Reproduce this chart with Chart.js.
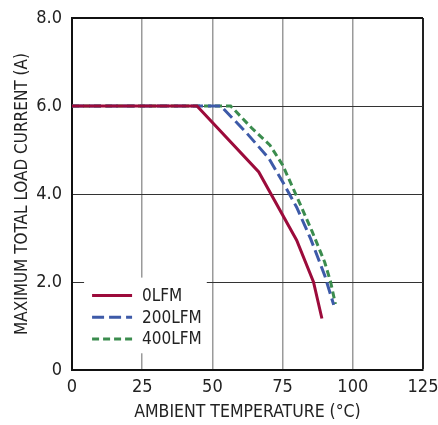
<!DOCTYPE html>
<html>
<head>
<meta charset="utf-8">
<script src="https://cdn.jsdelivr.net/npm/chart.js@4/dist/chart.umd.min.js"></script>
<style>
  html, body { margin: 0; padding: 0; background: #fff; }
  #wrap { width: 438px; height: 425px; }
</style>
</head>
<body>
<div id="wrap"><canvas id="derating" width="438" height="425"></canvas></div>
<script>
// Derating curves
const tempTicks = [0, 25, 50, 75, 100, 125];
const currentTicks = [0, 2, 4, 6, 8];

const temp0 = [0, 44.5, 66.5, 80, 86, 89];
const amps0 = [6, 6, 4.5, 2.95, 2.0, 1.17];

const temp200 = [0, 53, 62, 70, 75, 80, 85, 90, 93.2];
const amps200 = [6, 6, 5.4, 4.82, 4.28, 3.7, 2.98, 2.15, 1.48];

const temp400 = [0, 56.5, 64, 70.5, 75, 80, 85.5, 90, 92.1, 93.8];
const amps400 = [6, 6, 5.5, 5.11, 4.66, 3.95, 3.15, 2.45, 2.0, 1.5];

const seriesNames = ['0LFM', '200LFM', '400LFM'];
const seriesColors = ['#9c0b3b', '#3d5aa8', '#3b8c4e'];
const seriesDash = [[], [12, 5], [7, 4]];

const FONT = '"Liberation Sans Narrow", "DejaVu Sans Condensed", sans-serif';

const toPoints = (xs, ys) => xs.map((x, i) => ({ x: x, y: ys[i] }));

// legend drawn inside the plot, on a white box
const boxLegend = {
    id: 'boxLegend',
    beforeDatasetsDraw(chart) {
        const c = chart.ctx;
        const xs = chart.scales.x, ys = chart.scales.y;
        const left = xs.getPixelForValue(4.3);
        const right = xs.getPixelForValue(48);
        const top = ys.getPixelForValue(2.1);
        const bottom = ys.getPixelForValue(0.38);
        c.save();
        c.fillStyle = '#fff';
        c.fillRect(left, top, right - left, bottom - top);
        c.font = '17px ' + FONT;
        c.textBaseline = 'middle';
        seriesNames.forEach((name, i) => {
            const y = top + 18 + i * 21.7;
            c.strokeStyle = seriesColors[i];
            c.lineWidth = 3;
            c.setLineDash(seriesDash[i]);
            c.beginPath();
            c.moveTo(left + 8, y);
            c.lineTo(left + 48, y);
            c.stroke();
            c.setLineDash([]);
            c.fillStyle = '#222';
            c.fillText(name, left + 58, y + 1);
        });
        c.restore();
    }
};

const datasets = [
    { label: seriesNames[0], data: toPoints(temp0, amps0) },
    { label: seriesNames[1], data: toPoints(temp200, amps200) },
    { label: seriesNames[2], data: toPoints(temp400, amps400) }
].map((d, i) => Object.assign(d, {
    borderColor: seriesColors[i],
    backgroundColor: seriesColors[i],
    borderWidth: 3,
    borderDash: seriesDash[i],
    pointRadius: 0,
    tension: 0,
    fill: false
}));

new Chart(document.getElementById('derating'), {
    type: 'line',
    data: { datasets: datasets },
    plugins: [boxLegend],
    options: {
        responsive: false,
        animation: false,
        layout: { padding: { top: 18, right: 15, left: 0, bottom: 0 } },
        plugins: { legend: { display: false }, tooltip: { enabled: false } },
        scales: {
            x: {
                type: 'linear',
                min: 0, max: 125,
                afterBuildTicks: s => { s.ticks = tempTicks.map(v => ({ value: v })); },
                afterFit: s => { s.height = 55; s.paddingRight = 0; s.paddingLeft = 0; },
                grid: {
                    color: ctx => (ctx.tick && ctx.tick.value === 125) ? '#222' : '#9a9a9a',
                    lineWidth: ctx => (ctx.tick && ctx.tick.value === 125) ? 2 : 1.5,
                    drawTicks: false
                },
                border: { color: '#111', width: 2 },
                ticks: { padding: 7, color: '#222', font: { family: FONT, size: 18 }, maxRotation: 0 },
                title: {
                    display: true,
                    text: 'AMBIENT TEMPERATURE (°C)',
                    color: '#222',
                    font: { family: FONT, size: 17.5 },
                    padding: { top: 0, bottom: 2 }
                }
            },
            y: {
                type: 'linear',
                min: 0, max: 8,
                afterBuildTicks: s => { s.ticks = currentTicks.map(v => ({ value: v })); },
                afterFit: s => { s.width = 72; s.paddingTop = 0; s.paddingBottom = 0; },
                grid: {
                    color: ctx => (ctx.tick && ctx.tick.value === 8) ? '#111' : '#333',
                    lineWidth: ctx => (ctx.tick && ctx.tick.value === 8) ? 2 : 1,
                    drawTicks: false
                },
                border: { color: '#111', width: 2 },
                ticks: {
                    padding: 10,
                    color: '#222',
                    font: { family: FONT, size: 18 },
                    callback: v => v === 0 ? '0' : v.toFixed(1)
                },
                title: {
                    display: true,
                    text: 'MAXIMUM TOTAL LOAD CURRENT (A)',
                    color: '#222',
                    font: { family: FONT, size: 17 },
                    padding: { top: 12, bottom: 0 }
                }
            }
        }
    }
});
</script>
</body>
</html>
